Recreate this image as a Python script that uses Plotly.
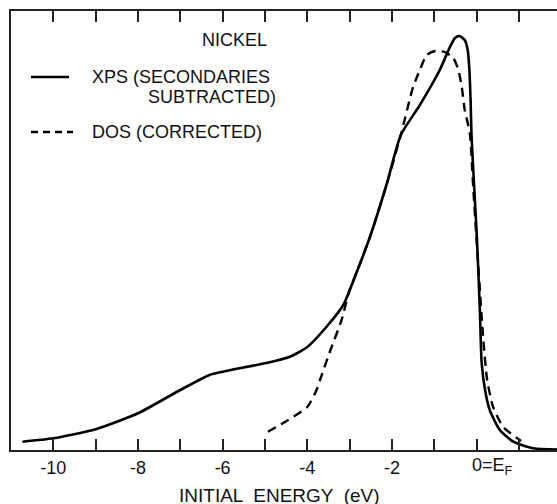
import plotly.graph_objects as go

# ---- data ----
xps_energy = [-10.73, -10.0, -9.0, -8.0, -7.0, -6.31, -6.0, -5.0, -4.41, -4.0, -3.55, -3.15,
              -2.84, -2.52, -2.13, -1.79, -1.34, -0.87, -0.63, -0.51, -0.41, -0.28, -0.21,
              -0.17, -0.14, -0.12, -0.04, 0.01, 0.08, 0.12, 0.2, 0.31, 0.55, 0.87, 1.34, 1.9]
xps_value = [8.3, 11.7, 20.7, 36.7, 60, 75, 78.3, 86.7, 93.3, 103, 123, 145,
             177, 213, 265, 315, 345, 380, 403, 412, 414, 410, 400,
             380, 347, 315, 250, 210, 137, 87, 60, 40, 20, 8.3, 1.7, 0.5]

dos_energy = [-4.93, -4.45, -4.0, -3.78, -3.70, -3.46, -3.19, -3.0, -2.84, -2.52, -2.13,
              -1.79, -1.5, -1.34, -1.18, -0.98, -0.75, -0.55, -0.43, -0.35, -0.28, -0.16,
              -0.08, 0.0, 0.16, 0.25, 0.39, 0.63, 1.05]
dos_value = [18.3, 30, 43, 60, 70, 99, 130, 160, 177, 213, 265,
             315, 363, 380, 395, 399, 398, 392, 380, 363, 340, 317,
             263, 210, 110, 70, 43, 23, 9]

tick_vals = list(range(-10, 2))
tick_text = ["-10", "", "-8", "", "-6", "", "-4", "", "-2", "", "", ""]

x_range = [-11.0, 1.9]
y_range = [0, 439]

# layout geometry (pixels)
W, H = 557, 504
ML, MR, MT, MB = 11, 0, 11, 54
PW = W - ML - MR
PH = H - MT - MB


def px(xp):
    return (xp - ML) / PW


def py(yp):
    return (H - MB - yp) / PH


FONT = "Liberation Sans"

fig = go.Figure()
fig.add_trace(go.Scatter(x=xps_energy, y=xps_value, mode="lines",
                         line=dict(color="black", width=2.6, shape="spline", smoothing=0.6),
                         showlegend=False))
fig.add_trace(go.Scatter(x=dos_energy, y=dos_value, mode="lines",
                         line=dict(color="black", width=2.4, dash="9px,6px", shape="spline",
                                   smoothing=0.6),
                         showlegend=False))

annotations = [
    dict(text="NICKEL", x=px(200), y=py(40)),
    dict(text="XPS (SECONDARIES", x=px(90), y=py(77)),
    dict(text="SUBTRACTED)", x=px(146), y=py(97)),
    dict(text="DOS (CORRECTED)", x=px(90), y=py(132)),
    dict(text="0=E<sub>F</sub>", x=px(470), y=py(466)),
]
for a in annotations:
    a.update(xref="paper", yref="paper", xanchor="left", yanchor="middle", showarrow=False,
             font=dict(family=FONT, size=18, color="#111"))
annotations.append(dict(text="INITIAL  ENERGY  (eV)", x=px(279), y=py(495), xref="paper",
                        yref="paper", xanchor="center", yanchor="middle", showarrow=False,
                        font=dict(family=FONT, size=19, color="#111")))

shapes = [
    dict(type="line", xref="paper", yref="paper", x0=px(31), x1=px(69), y0=py(77), y1=py(77),
         line=dict(color="black", width=2.4)),
    dict(type="line", xref="paper", yref="paper", x0=px(31), x1=px(73), y0=py(132), y1=py(132),
         line=dict(color="black", width=2.4, dash="7px,5px")),
]

fig.update_layout(
    width=W, height=H,
    margin=dict(l=ML, r=MR, t=MT, b=MB),
    paper_bgcolor="white", plot_bgcolor="white",
    annotations=annotations, shapes=shapes,
    xaxis=dict(range=x_range, tickvals=tick_vals, ticktext=tick_text, ticks="inside",
               ticklen=11, tickwidth=1.6, tickcolor="#222", showline=True, linecolor="#222",
               linewidth=2, mirror="ticks", showgrid=False, zeroline=False,
               tickfont=dict(family=FONT, size=18, color="#111")),
    yaxis=dict(range=y_range, showline=True, linecolor="#222", linewidth=2, ticks="",
               showticklabels=False, showgrid=False, zeroline=False),
)

fig.write_html("out.html")
